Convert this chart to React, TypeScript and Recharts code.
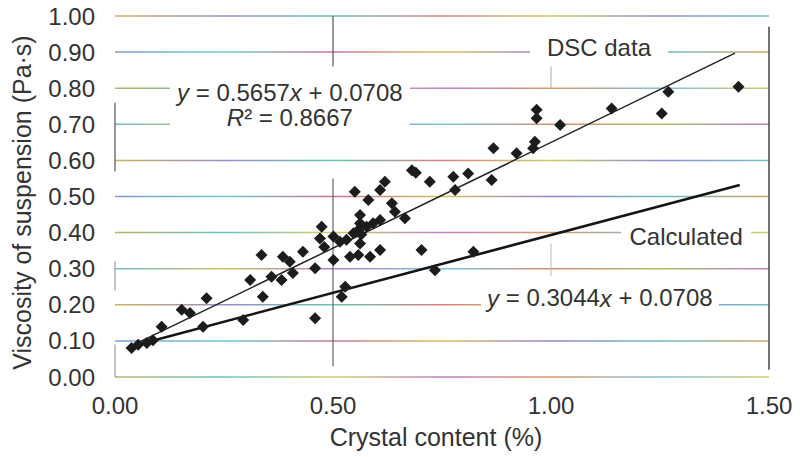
import React from "react";
import {
  ScatterChart,
  Scatter,
  XAxis,
  YAxis,
  CartesianGrid,
  ReferenceLine,
  ReferenceDot,
} from "recharts";

// DSC measurements: crystal content (%) vs viscosity of suspension (Pa·s)
const crystalContent = [
  0.038, 0.053, 0.073, 0.087, 0.107, 0.153, 0.172, 0.202, 0.21, 0.294,
  0.31, 0.336, 0.339, 0.359, 0.382, 0.385, 0.408, 0.401, 0.431, 0.459,
  0.459, 0.474, 0.47, 0.501, 0.501, 0.516, 0.52, 0.528, 0.531, 0.539,
  0.547, 0.55, 0.558, 0.558, 0.562, 0.562, 0.562, 0.577, 0.581, 0.585,
  0.592, 0.608, 0.608, 0.608, 0.619, 0.635, 0.642, 0.665, 0.681, 0.69,
  0.703, 0.722, 0.734, 0.776, 0.78, 0.81, 0.822, 0.864, 0.868, 0.921,
  0.959, 0.963, 0.967, 0.967, 1.021, 1.139, 1.254, 1.269, 1.43, 0.48,
  0.565,
];
const viscosity = [
  0.08, 0.089, 0.094, 0.102, 0.139, 0.186, 0.177, 0.139, 0.218, 0.158,
  0.269, 0.338, 0.222, 0.278, 0.269, 0.333, 0.288, 0.319, 0.347, 0.301,
  0.163, 0.416, 0.384, 0.389, 0.324, 0.375, 0.222, 0.25, 0.38, 0.333,
  0.398, 0.513, 0.407, 0.338, 0.449, 0.426, 0.37, 0.416, 0.49, 0.333,
  0.426, 0.518, 0.435, 0.352, 0.541, 0.481, 0.458, 0.44, 0.573, 0.566,
  0.352, 0.541, 0.296, 0.555, 0.518, 0.564, 0.347, 0.546, 0.634, 0.62,
  0.634, 0.652, 0.74, 0.717, 0.698, 0.744, 0.73, 0.79, 0.804, 0.36,
  0.395,
];

// fitted lines, end points
const dscFitX = [0.034, 1.422];
const dscFitY = [0.084, 0.897];
const calcFitX = [0.034, 1.433];
const calcFitY = [0.084, 0.532];

const xTicks = [0, 0.5, 1, 1.5];
const yTicks = [0, 0.1, 0.2, 0.3, 0.4, 0.5, 0.6, 0.7, 0.8, 0.9, 1];

const points = crystalContent.map((x, i) => ({ x, y: viscosity[i] }));
const dscFit = dscFitX.map((x, i) => ({ x, y: dscFitY[i] }));
const calcFit = calcFitX.map((x, i) => ({ x, y: calcFitY[i] }));

const INK = "#333";
const FONT = "'Liberation Sans', Arial, Helvetica, sans-serif";

const GRADIENTS = [
  ["#a8a040", "#3fb8b0", "#c8c040", "#b060c0", "#d08040", "#60b0d0", "#c0c040"],
  ["#6080d0", "#40c0c0", "#c05080", "#d0b030", "#8060c0", "#40b0b0", "#c09040"],
  ["#c0a030", "#8070c0", "#40b8a0", "#d06060", "#c0c040", "#7070c0", "#50b0c0"],
  ["#50b0b0", "#c0b040", "#a060c0", "#50b8d0", "#d07050", "#90b040", "#b060b0"],
];

const Diamond = (props: any) => {
  const { cx, cy } = props;
  if (cx == null || cy == null) return null;
  const r = 6;
  return (
    <polygon
      points={`${cx},${cy - r} ${cx + r},${cy} ${cx},${cy + r} ${cx - r},${cy}`}
      fill="#1c1c1c"
    />
  );
};

const NoDot = () => null;

const gridLine = (p: any) => {
  const idx = (p.index ?? 0) % GRADIENTS.length;
  return (
    <line
      key={p.key}
      x1={p.x1}
      y1={p.y1}
      x2={p.x2}
      y2={p.y2}
      stroke={`url(#grid${idx})`}
      strokeWidth={1.5}
      strokeOpacity={0.8}
    />
  );
};

// text annotations with a white box that interrupts the grid lines
const makeNote = (w: number, h: number, lines: { dy: number; content: React.ReactNode }[]) =>
  (p: any) => {
    const { cx, cy } = p;
    if (cx == null || cy == null) return <g />;
    return (
      <g>
        <rect x={cx - w / 2} y={cy - h / 2} width={w} height={h} fill="#fff" />
        {lines.map((l, i) => (
          <text
            key={i}
            x={cx}
            y={cy + l.dy}
            textAnchor="middle"
            dominantBaseline="central"
            fontSize={24}
            fontFamily={FONT}
            fill={INK}
          >
            {l.content}
          </text>
        ))}
      </g>
    );
  };

const eq1Note = makeNote(240, 54, [
  {
    dy: -11,
    content: (
      <>
        <tspan fontStyle="italic">y</tspan> = 0.5657<tspan fontStyle="italic">x</tspan> + 0.0708
      </>
    ),
  },
  {
    dy: 14,
    content: (
      <>
        <tspan fontStyle="italic">R</tspan>² = 0.8667
      </>
    ),
  },
]);
const dscNote = makeNote(138, 26, [{ dy: -1, content: "DSC data" }]);
const calcNote = makeNote(130, 27, [{ dy: 0, content: "Calculated" }]);
const eq2Note = makeNote(238, 26, [
  {
    dy: 0,
    content: (
      <>
        <tspan fontStyle="italic">y</tspan> = 0.3044<tspan fontStyle="italic">x</tspan> + 0.0708
      </>
    ),
  },
]);

const YTitle = (p: any) => {
  const vb = p.viewBox || { x: 0, y: 0, height: 0 };
  const cx = 22;
  const cy = vb.y + vb.height / 2 + 6;
  return (
    <text
      x={cx}
      y={cy}
      transform={`rotate(-90, ${cx}, ${cy})`}
      textAnchor="middle"
      dominantBaseline="central"
      fontSize={25}
      fontFamily={FONT}
      fill={INK}
    >
      Viscosity of suspension (Pa·s)
    </text>
  );
};

const XTitle = (p: any) => {
  const vb = p.viewBox || { x: 0, width: 0 };
  return (
    <text
      x={vb.x + vb.width / 2 - 6}
      y={437}
      textAnchor="middle"
      dominantBaseline="central"
      fontSize={25}
      fontFamily={FONT}
      fill={INK}
    >
      Crystal content (%)
    </text>
  );
};

const tickStyle = { fontSize: 24, fontFamily: FONT, fill: INK };

export default function App() {
  return (
    <div style={{ position: "absolute", left: 0, top: 0, background: "#fff" }}>
      <ScatterChart
        width={804}
        height={457}
        margin={{ top: 16, right: 35, bottom: 0, left: 0 }}
      >
        <defs>
          {GRADIENTS.map((stops, gi) => (
            <linearGradient
              key={gi}
              id={`grid${gi}`}
              gradientUnits="userSpaceOnUse"
              x1={115}
              y1={0}
              x2={769}
              y2={0}
            >
              {stops.map((c, si) => (
                <stop key={si} offset={si / (stops.length - 1)} stopColor={c} />
              ))}
            </linearGradient>
          ))}
        </defs>
        <CartesianGrid vertical={false} horizontal={gridLine} />
        <XAxis
          type="number"
          dataKey="x"
          domain={[0, 1.5]}
          ticks={xTicks}
          tickFormatter={(v: number) => v.toFixed(2)}
          axisLine={false}
          tickLine={false}
          tickMargin={14}
          height={80}
          tick={tickStyle}
          interval={0}
          label={{ content: XTitle }}
        />
        <YAxis
          type="number"
          dataKey="y"
          domain={[0, 1]}
          ticks={yTicks}
          tickFormatter={(v: number) => v.toFixed(2)}
          axisLine={false}
          tickLine={false}
          tickMargin={14}
          width={115}
          tick={tickStyle}
          interval={0}
          label={{ content: YTitle }}
        />
        {/* broken scan lines: left axis, 0.50 and 1.00 verticals, right border */}
        <ReferenceLine segment={[{ x: 0, y: 0.57 }, { x: 0, y: 0.76 }]} stroke="#555" strokeWidth={1.2} />
        <ReferenceLine segment={[{ x: 0, y: 0.24 }, { x: 0, y: 0.32 }]} stroke="#888" strokeWidth={1} />
        <ReferenceLine segment={[{ x: 0, y: 0 }, { x: 0, y: 0.09 }]} stroke="#888" strokeWidth={1} />
        <ReferenceLine segment={[{ x: 0.5, y: 0.86 }, { x: 0.5, y: 1 }]} stroke="#555" strokeWidth={1.2} />
        <ReferenceLine segment={[{ x: 0.5, y: 0.03 }, { x: 0.5, y: 0.55 }]} stroke="#666" strokeWidth={1.2} />
        <ReferenceLine segment={[{ x: 1, y: 0.8 }, { x: 1, y: 0.86 }]} stroke="#aaa" strokeWidth={1} />
        <ReferenceLine segment={[{ x: 1, y: 0.28 }, { x: 1, y: 0.37 }]} stroke="#bbb" strokeWidth={1} />
        <ReferenceLine segment={[{ x: 1.5, y: 0.02 }, { x: 1.5, y: 0.97 }]} stroke="#444" strokeWidth={1.5} />

        <ReferenceDot x={0.401} y={0.759} r={0} shape={eq1Note} />
        <ReferenceDot x={1.11} y={0.909} r={0} shape={dscNote} />
        <ReferenceDot x={1.31} y={0.388} r={0} shape={calcNote} />
        <ReferenceDot x={1.112} y={0.219} r={0} shape={eq2Note} />

        <Scatter
          data={calcFit}
          line={{ stroke: "#151515", strokeWidth: 2.6 }}
          shape={NoDot}
          isAnimationActive={false}
        />
        <Scatter
          data={dscFit}
          line={{ stroke: "#222", strokeWidth: 1.5 }}
          shape={NoDot}
          isAnimationActive={false}
        />
        <Scatter data={points} shape={Diamond} isAnimationActive={false} />
      </ScatterChart>
    </div>
  );
}
